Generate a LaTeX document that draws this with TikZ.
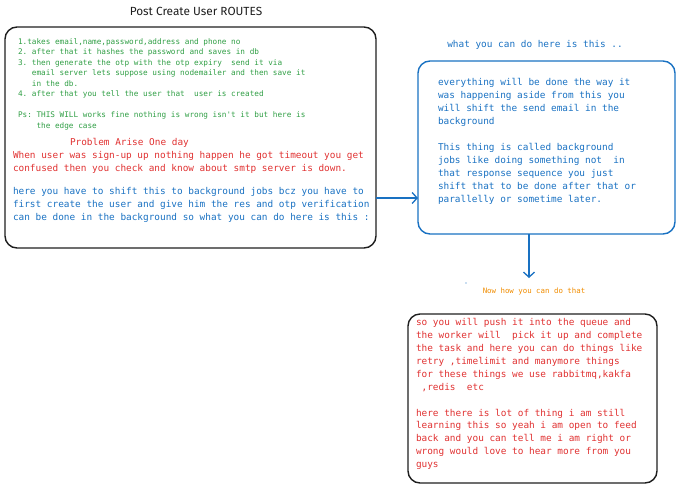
\documentclass[tikz,border=0pt]{standalone}
\usepackage{fontspec}
\setmainfont{Fira Sans}
\setmonofont{DejaVu Sans Mono}
\usetikzlibrary{positioning}
\usetikzlibrary{calc,arrows.meta}
\definecolor{exgreen}{HTML}{2F9E44}
\definecolor{exred}{HTML}{E03131}
\definecolor{exblue}{HTML}{1971C2}
\definecolor{exorange}{HTML}{F08C00}
\definecolor{exblack}{HTML}{1E1E1E}

\begin{document}
\begin{tikzpicture}[x=1pt,y=-1pt,every node/.style={outer sep=0pt},
		card/.style={draw,line width=1.4pt,rounded corners=12pt,inner sep=0pt},
		note/.style={anchor=north west,inner sep=0pt,align=left,font=\fontsize{9.4}{13}\selectfont\ttfamily},
		small/.style={anchor=north west,inner sep=0pt,align=left,font=\fontsize{7.7}{10.5}\selectfont\ttfamily},
		flow/.style={exblue,line width=1.3pt,arrows={-Straight Barb[length=5pt,width=11pt]}},
		]
		\useasboundingbox (0,0) rectangle (680,488);

		% title
		\path (196,11) node[font=\fontsize{11.8}{13}\selectfont,exblack] (title) {Post Create User ROUTES};

		% left card
		\node[card,exblack,minimum width=371pt,minimum height=221pt] (box1) at (190.5,137.5) {};
		\path (18,38.5) node[small,exgreen] (steps) {1.takes email,name,password,address and phone no\\
			2. after that it hashes the password and saves in db\\
			3. then generate the otp with the otp expiry~ send it via\\
			\phantom{3. }email server lets suppose using nodemailer and then save it\\
			\phantom{3. }in the db.\\
			4. after that you tell the user that~ user is created\\[10.5pt]
			Ps: THIS WILL works fine nothing is wrong isn't it but here is\\
			\phantom{Ps: }the edge case};
		\path (70,138.5) node[note,exred] (problem) {Problem Arise One day};
		\path (13,151.5) node[note,exred] (timeout) {When user was sign-up up nothing happen he got timeout you get\\
			confused then you check and know about smtp server is down.};
		\path (13,187.5) node[note,exblue] (shift) {here you have to shift this to background jobs bcz you have to\\
			first create the user and give him the res and otp verification\\
			can be done in the background so what you can do here is this :};

		% right card
		\path (535,45) node[font=\fontsize{9.4}{13}\selectfont\ttfamily,exblue] (what) {what you can do here is this ..};
		\node[card,exblue,minimum width=257pt,minimum height=173pt] (box2) at (546.5,147.5) {};
		\path (438,78) node[note,exblue] (jobs) {everything will be done the way it\\
			was happening aside from this you\\
			will shift the send email in the\\
			background\\[13pt]
			This thing is called background\\
			jobs like doing something not~ in\\
			that response sequence you just\\
			shift that to be done after that or\\
			parallelly or sometime later.};
		\coordinate (link) at (0,198);
		\draw[flow] (box1.east |- link) -- (box2.west |- link);

		% down to the queue
		\coordinate (how) at (529,278);
		\draw[flow] (box2.south -| how) -- (how);
		\fill[exblue] (466,283) circle (0.6pt);
		\path (534,291.5) node[font=\fontsize{7.4}{9}\selectfont\ttfamily,exorange] (nowhow) {Now how you can do that};

		% bottom card
		\node[card,exblack,minimum width=249pt,minimum height=169pt] (box3) at (532.5,398.5) {};
		\path (416,318.5) node[note,exred,font=\fontsize{9.4}{12.9}\selectfont\ttfamily] (queue) {so you will push it into the queue and\\
			the worker will~ pick it up and complete\\
			the task and here you can do things like\\
			retry ,timelimit and manymore things\\
			for these things we use rabbitmq,kakfa\\
			\ ,redis~ etc\\[12.9pt]
			here there is lot of thing i am still\\
			learning this so yeah i am open to feed\\
			back and you can tell me i am right or\\
			wrong would love to hear more from you\\
			guys};
	\end{tikzpicture}
\end{document}
